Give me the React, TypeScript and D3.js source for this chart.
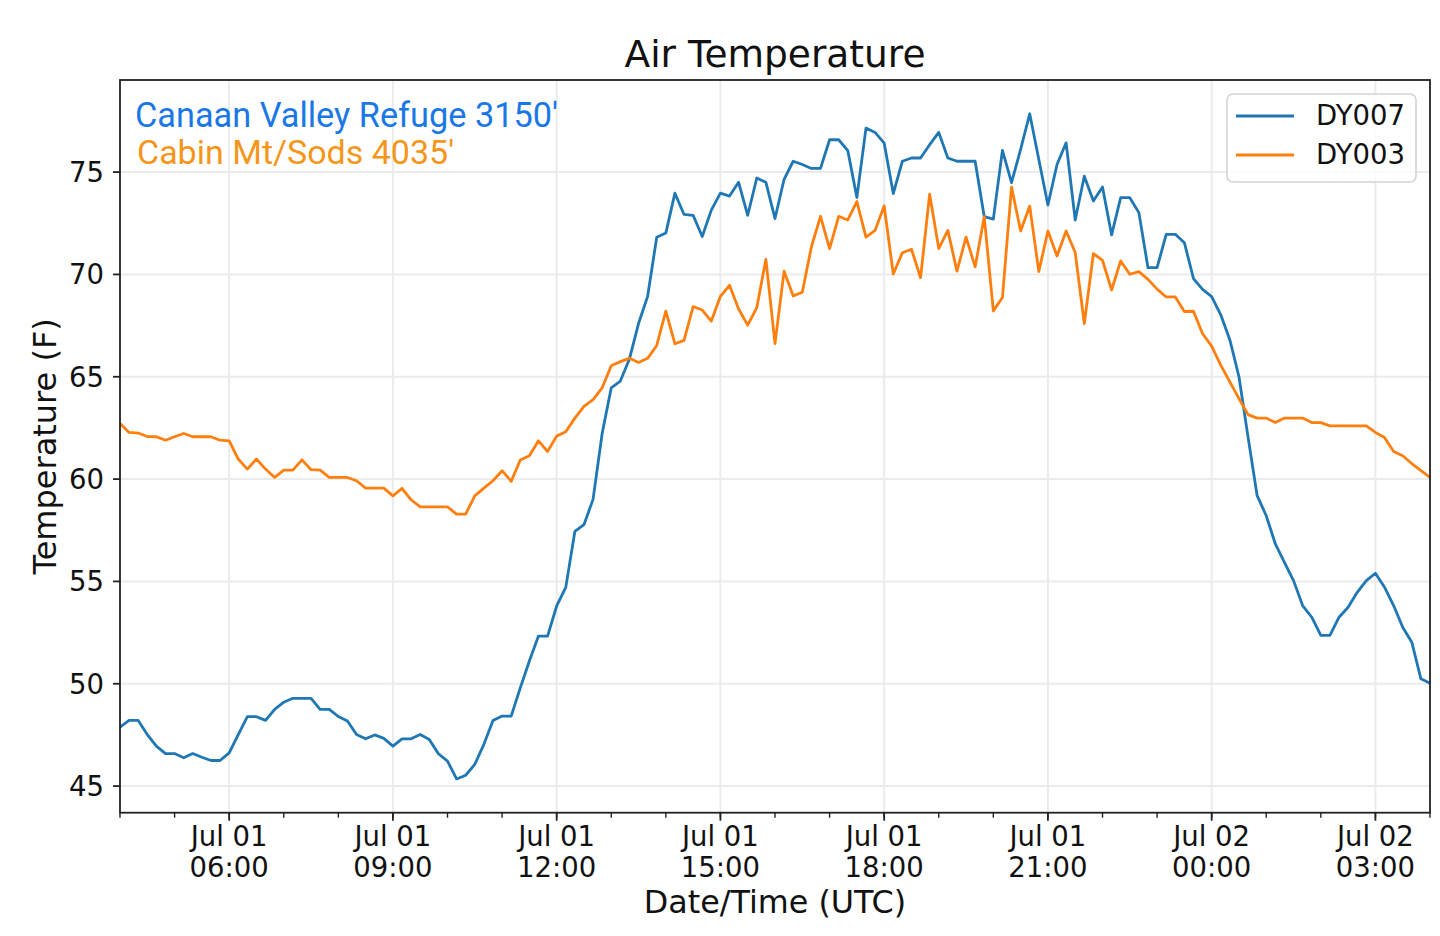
import React, { useMemo } from 'react';
import * as d3 from 'd3';

// 10-minute readings, Jul 01 04:00 UTC -> Jul 02 04:00 UTC
const START_TIME = Date.UTC(2019, 6, 1, 4, 0);
const STEP_MINUTES = 10;

const dy007 = [
  47.88, 48.21, 48.21, 47.52, 46.95, 46.59, 46.59, 46.38, 46.59, 46.41,
  46.25, 46.25, 46.62, 47.52, 48.39, 48.39, 48.21, 48.75, 49.1, 49.29,
  49.29, 49.29, 48.75, 48.75, 48.4, 48.18, 47.52, 47.31, 47.5, 47.33,
  46.95, 47.31, 47.31, 47.52, 47.28, 46.58, 46.22, 45.35, 45.53, 46.06,
  47.04, 48.21, 48.42, 48.42, 49.8, 51.11, 52.33, 52.33, 53.8, 54.71,
  57.44, 57.77, 59.01, 62.23, 64.46, 64.79, 65.87, 67.6, 68.93, 71.82,
  72.02, 73.97, 72.93, 72.89, 71.85, 73.14, 73.97, 73.83, 74.5, 72.89,
  74.71, 74.5, 72.73, 74.65, 75.53, 75.37, 75.18, 75.18, 76.58, 76.58,
  76.05, 73.76, 77.15, 76.94, 76.42, 73.95, 75.53, 75.69, 75.69, 76.34,
  76.94, 75.69, 75.53, 75.53, 75.53, 72.82, 72.7, 76.06, 74.48, 76.11,
  77.85, 75.62, 73.39, 75.37, 76.43, 72.66, 74.8, 73.59, 74.27, 71.93,
  73.75, 73.75, 73.02, 70.33, 70.33, 71.96, 71.96, 71.55, 69.8, 69.27,
  68.92, 68.03, 66.8, 65.0, 62.05, 59.19, 58.21, 56.83, 55.93, 55.04,
  53.82, 53.25, 52.36, 52.36, 53.25, 53.74, 54.47, 55.04, 55.4, 54.72,
  53.82, 52.76, 52.03, 50.24, 50.03,
];

const dy003 = [
  62.72, 62.28, 62.25, 62.08, 62.07, 61.9, 62.07, 62.23, 62.07, 62.07,
  62.07, 61.9, 61.87, 60.98, 60.49, 60.98, 60.49, 60.08, 60.44, 60.44,
  60.94, 60.46, 60.44, 60.08, 60.08, 60.08, 59.92, 59.56, 59.56, 59.56,
  59.18, 59.55, 58.99, 58.64, 58.64, 58.64, 58.64, 58.29, 58.29, 59.18,
  59.56, 59.92, 60.41, 59.89, 60.93, 61.14, 61.87, 61.35, 62.1, 62.31,
  62.98, 63.55, 63.88, 64.46, 65.54, 65.74, 65.9, 65.7, 65.9, 66.53,
  68.21, 66.61, 66.78, 68.43, 68.26, 67.72, 68.93, 69.47, 68.31, 67.52,
  68.38, 70.74, 66.62, 70.16, 68.95, 69.13, 71.34, 72.84, 71.26, 72.84,
  72.66, 73.56, 71.82, 72.15, 73.35, 70.02, 71.06, 71.23, 69.84, 73.92,
  71.26, 72.15, 70.16, 71.82, 70.37, 72.82, 68.22, 68.87, 74.27, 72.12,
  73.34, 70.14, 72.12, 70.9, 72.12, 71.07, 67.6, 71.02, 70.69, 69.24,
  70.66, 70.01, 70.14, 69.76, 69.28, 68.9, 68.9, 68.19, 68.2, 67.1,
  66.5, 65.57, 64.75, 63.93, 63.15, 62.98, 62.98, 62.76, 62.98, 62.98,
  62.98, 62.76, 62.76, 62.6, 62.6, 62.6, 62.6, 62.6, 62.28, 62.03,
  61.35, 61.14, 60.76, 60.41, 60.08,
];

const seriesNames = ['DY007', 'DY003'];
const seriesColors = ['#1f77b4', '#ff7f0e'];
const yTickValues = [45, 50, 55, 60, 65, 70, 75];
const stationLabels = ["Canaan Valley Refuge 3150'", "Cabin Mt/Sods 4035'"];
const stationColors = ['#1a78e6', '#f5961a'];

const WIDTH = 1440;
const HEIGHT = 936;
const M = { left: 120, right: 1430, top: 80, bottom: 812.7 };
const FONT = "'DejaVu Sans', sans-serif";

type Pt = { t: Date; v: number };

const toPoints = (vals: number[]): Pt[] =>
  vals.map((v, i) => ({ t: new Date(START_TIME + i * STEP_MINUTES * 60000), v }));

export default function App() {
  const series = useMemo(() => [toPoints(dy007), toPoints(dy003)], []);

  const x = d3
    .scaleUtc()
    .domain([new Date(START_TIME), new Date(START_TIME + 24 * 3600000)])
    .range([M.left, M.right]);
  const y = d3.scaleLinear().domain([43.7, 79.5]).range([M.bottom, M.top]);

  const line = d3
    .line<Pt>()
    .x(d => x(d.t))
    .y(d => y(d.v));

  // major ticks every 3 hours from 06:00, minor every hour
  const majorTicks = d3.utcHour.every(3)!.range(new Date(START_TIME + 2 * 3600000), new Date(START_TIME + 24 * 3600000 + 1));
  const minorTicks = d3.utcHour.range(new Date(START_TIME), new Date(START_TIME + 24 * 3600000 + 1));
  const fmtDay = d3.utcFormat('%b %d');
  const fmtTime = d3.utcFormat('%H:%M');

  return (
    <svg
      width={WIDTH}
      height={HEIGHT}
      style={{ position: 'absolute', left: 0, top: 0, background: '#fff' }}
    >
      <rect x={0} y={0} width={WIDTH} height={HEIGHT} fill="#fff" />

      {/* grid */}
      {yTickValues.map(t => (
        <line key={`gy${t}`} x1={M.left} x2={M.right} y1={y(t)} y2={y(t)} stroke="#ebebeb" strokeWidth={2} />
      ))}
      {majorTicks.map((t, i) => (
        <line key={`gx${i}`} x1={x(t)} x2={x(t)} y1={M.top} y2={M.bottom} stroke="#ebebeb" strokeWidth={2} />
      ))}

      {/* data lines */}
      {series.map((s, i) => (
        <path
          key={seriesNames[i]}
          d={line(s) || ''}
          fill="none"
          stroke={seriesColors[i]}
          strokeWidth={2.8}
          strokeLinejoin="round"
        />
      ))}

      {/* spines */}
      <rect
        x={M.left}
        y={M.top}
        width={M.right - M.left}
        height={M.bottom - M.top}
        fill="none"
        stroke="#222"
        strokeWidth={1.8}
      />

      {/* y ticks */}
      {yTickValues.map(t => (
        <g key={`yt${t}`}>
          <line x1={M.left - 7} x2={M.left} y1={y(t)} y2={y(t)} stroke="#222" strokeWidth={1.8} />
          <text x={104} y={y(t)} dy="0.36em" textAnchor="end" fontFamily={FONT} fontSize={27.5} fill="#111">
            {t}
          </text>
        </g>
      ))}

      {/* x minor ticks */}
      {minorTicks.map((t, i) => (
        <line key={`mx${i}`} x1={x(t)} x2={x(t)} y1={M.bottom} y2={M.bottom + 5} stroke="#222" strokeWidth={1.4} />
      ))}
      {/* x major ticks + labels */}
      {majorTicks.map((t, i) => (
        <g key={`xt${i}`}>
          <line x1={x(t)} x2={x(t)} y1={M.bottom} y2={M.bottom + 8} stroke="#222" strokeWidth={1.8} />
          <text x={x(t)} y={846} textAnchor="middle" fontFamily={FONT} fontSize={27.5} fill="#111">
            {fmtDay(t)}
          </text>
          <text x={x(t)} y={877} textAnchor="middle" fontFamily={FONT} fontSize={27.5} fill="#111">
            {fmtTime(t)}
          </text>
        </g>
      ))}

      {/* axis labels & title */}
      <text x={(M.left + M.right) / 2} y={913} textAnchor="middle" fontFamily={FONT} fontSize={31.8} fill="#111">
        Date/Time (UTC)
      </text>
      <text
        transform={`translate(56, ${(M.top + M.bottom) / 2}) rotate(-90)`}
        textAnchor="middle"
        fontFamily={FONT}
        fontSize={32}
        fill="#111"
      >
        Temperature (F)
      </text>
      <text x={(M.left + M.right) / 2} y={67} textAnchor="middle" fontFamily={FONT} fontSize={37.5} fill="#111">
        Air Temperature
      </text>

      {/* station annotations */}
      <text x={135} y={127} fontFamily="Roboto, sans-serif" fontSize={34.3} fill={stationColors[0]}>
        {stationLabels[0]}
      </text>
      <text x={137} y={164} fontFamily="Roboto, sans-serif" fontSize={34} fill={stationColors[1]}>
        {stationLabels[1]}
      </text>

      {/* legend */}
      <g>
        <rect x={1227} y={94} width={189} height={88} rx={6} fill="#fff" fillOpacity={0.8} stroke="#d4d4d4" strokeWidth={1.6} />
        {seriesNames.map((n, i) => (
          <g key={`lg${n}`}>
            <line x1={1236} x2={1294} y1={116 + i * 39} y2={116 + i * 39} stroke={seriesColors[i]} strokeWidth={2.8} />
            <text x={1316} y={124.5 + i * 39.5} fontFamily={FONT} fontSize={27.5} fill="#111">
              {n}
            </text>
          </g>
        ))}
      </g>
    </svg>
  );
}
